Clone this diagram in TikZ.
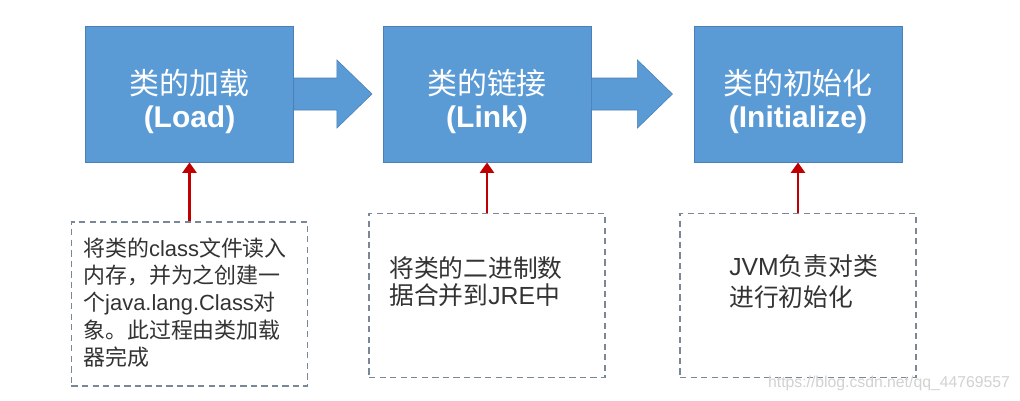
\documentclass[tikz,border=0pt]{standalone}
\usepackage{fontspec}
\setmainfont{Liberation Sans}
\newfontfamily\zh{Noto Sans CJK SC}
\usetikzlibrary{arrows.meta}

\definecolor{stageblue}{HTML}{5B9BD5}
\definecolor{stageedge}{HTML}{4A80B8}
\definecolor{noteedge}{HTML}{7A8798}
\definecolor{linkred}{HTML}{C00000}
\definecolor{notegray}{HTML}{333333}

\begin{document}
\begin{tikzpicture}[
    x=0.025cm, y=-0.025cm,
    stage/.style={draw=stageedge, line width=0.6pt, fill=stageblue,
        minimum width=5.2cm, minimum height=3.4cm, align=center, text=white,
        font=\fontsize{21.3}{23.5}\selectfont\bfseries},
    note/.style={draw=noteedge, line width=1pt, dash pattern=on 4.5pt off 3pt,
        minimum width=5.9cm, minimum height=4.1cm},
    notetext/.style={align=left, text=notegray, inner sep=0pt},
    uparrow/.style={line width=2.1pt, linkred, -{Triangle[length=7.5pt, width=10pt]}},
    bigarrow/.style={fill=stageblue, draw=stageedge, line width=0.4pt},
]

% === Canvas ===
\path[use as bounding box, fill=white] (0, 0) rectangle (1020, 401);

% === Stages ===
\node[stage] (load) at (189.5, 94) {\rule{0pt}{28pt}{\zh\mdseries 类的加载}\\(Load)};
\node[stage] (link) at (487, 94) {\rule{0pt}{28pt}{\zh\mdseries 类的链接}\\(Link)};
\node[stage] (init) at (798, 94) {\rule{0pt}{28pt}{\zh\mdseries 类的初始化}\\(Initialize)};

% Block arrows between stages
\path[bigarrow] (load.east) ++(0, -16) -- ++(43, 0) -- ++(0, -18) -- ++(35, 34)
    -- ++(-35, 34) -- ++(0, -18) -- ++(-43, 0) -- cycle;
\path[bigarrow] (link.east) ++(0, -16) -- ++(46, 0) -- ++(0, -18) -- ++(35, 34)
    -- ++(-35, 34) -- ++(0, -18) -- ++(-46, 0) -- cycle;

% === Notes (dashed) ===
\node[note] (loadnote) at (189.5, 304) {};
\node[note] (linknote) at (487, 295.5) {};
\node[note] (initnote) at (798, 295.5) {};

% Note texts
\node[notetext, anchor=west, font=\fontsize{15.6}{19.4}\selectfont] (loadtext) at (83, 302.5)
    {{\zh 将类的}class{\zh 文件读入}\\
     {\zh 内存，并为之创建一}\\
     {\zh 个}java.lang.Class{\zh 对}\\
     {\zh 象。此过程由类加载}\\
     {\zh 器完成}};
\node[notetext, anchor=west, font=\fontsize{17.6}{19.6}\selectfont] (linktext) at (389, 281.5)
    {{\zh 将类的二进制数}\\
     {\zh 据合并到}JRE{\zh 中}};
\node[notetext, anchor=west, font=\fontsize{17.6}{22}\selectfont] (inittext) at (729, 281.5)
    {JVM{\zh 负责对类}\\
     {\zh 进行初始化}};

% === Red arrows (note -> stage) ===
\draw[uparrow] (loadnote.north) -- (load.south);
\draw[uparrow] (linknote.north) -- (link.south);
\draw[uparrow] (initnote.north) -- (init.south);

% Watermark
\node[text=gray!35, font=\fontsize{11.2}{12}\selectfont] (mark) at (889, 383)
    {https://blog.csdn.net/qq\_44769557};

\end{tikzpicture}
\end{document}
